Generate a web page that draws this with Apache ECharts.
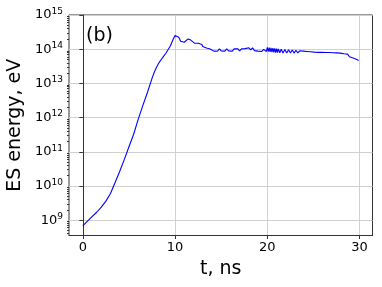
<!DOCTYPE html>
<html>
<head>
<meta charset="utf-8">
<script src="https://cdn.jsdelivr.net/npm/echarts@6/dist/echarts.min.js"></script>
<style>
html,body{margin:0;padding:0;background:#fff;}
#c{width:382px;height:287px;}
</style>
</head>
<body>
<div id="c"></div>
<script>
// time, ns
const timeNs = [
  0.0, 0.5, 1.0, 1.5, 2.0, 2.5, 3.0, 3.5, 4.0, 4.5, 5.0, 5.5, 6.0, 6.5, 7.0,
  7.5, 7.75, 8.0, 8.25, 8.5, 8.75, 9.0, 9.25, 9.5, 9.8,
  10.0, 10.2, 10.4, 10.6, 10.8, 11.0, 11.2, 11.4, 11.5, 11.7, 11.9, 12.1, 12.3, 12.5, 12.7, 12.9,
  13.0, 13.2, 13.4, 13.6, 13.8,
  14.0, 14.2, 14.4, 14.6, 14.8, 15.0, 15.2, 15.4, 15.6, 15.8,
  16.0, 16.2, 16.4, 16.6, 16.8, 17.0, 17.2, 17.4, 17.6, 17.8,
  18.0, 18.2, 18.4, 18.6, 18.8, 19.0, 19.2, 19.4, 19.6, 19.8,
  19.9, 20.0, 20.1, 20.2, 20.3, 20.4, 20.5, 20.6, 20.7, 20.8,
  20.9, 21.0, 21.1, 21.2, 21.35, 21.5, 21.7, 21.9, 22.1, 22.3,
  22.5, 22.7, 22.9, 23.1, 23.3, 23.5, 23.7, 23.9, 24.1, 24.3,
  24.5, 24.7, 24.9, 25.1, 25.3, 25.5, 25.7, 25.9, 26.1, 26.3,
  26.5, 26.7, 26.9, 27.1, 27.3, 27.5, 27.7, 27.9, 28.1, 28.3,
  28.5, 28.7, 28.9, 29.1, 29.3, 29.5, 29.7, 29.9
];
// ES energy, eV
const esEnergy = [
  6.8e8, 9.3e8, 1.26e9, 1.7e9, 2.4e9, 3.6e9, 6.0e9, 1.26e10, 2.7e10, 6.0e10, 1.4e11, 3.2e11, 8.9e11, 2.24e12, 5.4e12,
  1.4e13, 2.15e13, 3.0e13, 4.0e13, 5.0e13, 6.2e13, 7.6e13, 9.8e13, 1.26e14, 2.0e14,
  2.5e14, 2.75e14, 2.25e14, 1.7e14, 1.5e14, 1.6e14, 1.75e14, 2.0e14, 2.2e14, 1.85e14, 1.65e14, 1.5e14, 1.42e14, 1.5e14, 1.48e14, 1.38e14,
  1.2e14, 1.15e14, 1.08e14, 1.05e14, 1.02e14,
  1.02e14, 8.8e13, 9.9e13, 8.7e13, 1.02e14, 8.9e13, 1.01e14, 8.8e13, 1.03e14, 8.9e13,
  1.01e14, 8.8e13, 1.02e14, 9.0e13, 1.03e14, 8.9e13, 1.02e14, 9.0e13, 1.04e14, 9.4e13,
  1.1e14, 9.5e13, 1.1e14, 9.1e13, 1.04e14, 8.8e13, 1.0e14, 8.6e13, 9.9e13, 1.1e14,
  8.6e13, 1.14e14, 8.5e13, 1.12e14, 8.3e13, 1.1e14, 8.2e13, 1.08e14, 8.1e13, 1.06e14,
  8.0e13, 1.04e14, 8.0e13, 1.02e14, 7.9e13, 1.0e14, 7.8e13, 9.8e13, 7.7e13, 9.6e13,
  7.7e13, 9.5e13, 7.7e13, 9.3e13, 7.8e13, 9.0e13, 7.9e13, 8.8e13, 7.8e13, 8.6e13,
  7.7e13, 8.4e13, 7.5e13, 8.2e13, 7.4e13, 8.1e13, 7.4e13, 8.1e13, 7.4e13, 8.0e13,
  7.3e13, 8.0e13, 7.3e13, 7.9e13, 7.2e13, 7.8e13, 7.2e13, 7.7e13, 7.0e13, 7.4e13,
  6.6e13, 7.2e13, 6.0e13, 6.4e13, 5.5e13, 6.1e13, 5.0e13, 4.7e13
];
const xTicks = [0, 10, 20, 30];
const yTicks = [1e9, 1e10, 1e11, 1e12, 1e13, 1e14, 1e15];
const yMinorTicks = [];
for (let e = 8; e <= 14; e++) for (let m = 2; m <= 9; m++) yMinorTicks.push(m * Math.pow(10, e));

const xMin = -1.5, xMax = 31.4;
const yMin = 3.55e8, yMax = 1.002e15;

const data = timeNs.map((t, i) => [t, esEnergy[i]]);
const font = 'DejaVu Sans';
const chart = echarts.init(document.getElementById('c'), null, {renderer: 'canvas'});
chart.setOption({
  animation: false,
  backgroundColor: '#ffffff',
  title: {
    text: '(b)', left: 86, top: 27, padding: 0,
    textStyle: {fontFamily: font, fontSize: 19, fontWeight: 'normal', color: '#000'}
  },
  grid: {left: 69, right: 9.5, top: 15, bottom: 51.5, show: true, borderColor: '#333', borderWidth: 1,
         backgroundColor: 'transparent', outerBoundsMode: 'none', containLabel: false},
  xAxis: {
    type: 'value', min: xMin, max: xMax,
    name: 't, ns', nameLocation: 'middle', nameGap: 22,
    nameTextStyle: {fontFamily: font, fontSize: 19, color: '#000'},
    axisLine: {show: true, onZero: false, lineStyle: {color: '#333', width: 1}},
    axisTick: {show: true, length: 3.5, customValues: xTicks, lineStyle: {color: '#333'}},
    axisLabel: {customValues: xTicks, margin: 6, fontFamily: font, fontSize: 13, color: '#000'},
    splitLine: {show: true, lineStyle: {color: '#d0d0d0', width: 1}}
  },
  yAxis: [{
    type: 'log', min: yMin, max: yMax,
    name: 'ES energy, eV', nameLocation: 'middle', nameGap: 42, nameRotate: 90,
    nameTextStyle: {fontFamily: font, fontSize: 19, color: '#000'},
    axisLine: {show: true, lineStyle: {color: '#333', width: 1}},
    axisTick: {show: true, length: 3.5, customValues: yTicks, lineStyle: {color: '#333'}},
    axisLabel: {
      customValues: yTicks, margin: 6, fontFamily: font, fontSize: 13, color: '#000',
      showMinLabel: true, showMaxLabel: true, hideOverlap: false,
      formatter: v => '10{sup|' + Math.round(Math.log10(v)) + '}',
      rich: {sup: {fontFamily: font, fontSize: 9, color: '#000', verticalAlign: 'bottom', padding: [0, 0, 7, 0]}}
    },
    splitLine: {show: true, lineStyle: {color: '#d0d0d0', width: 1}}
  }, {
    type: 'log', min: yMin, max: yMax, position: 'left',
    axisLine: {show: false},
    axisTick: {show: true, length: 2, customValues: yMinorTicks, lineStyle: {color: '#333'}},
    axisLabel: {show: false},
    splitLine: {show: false}
  }],
  series: [{
    type: 'line', data: data, yAxisIndex: 0, showSymbol: false, symbol: 'none',
    lineStyle: {color: '#0000ff', width: 1.1}, clip: true
  }]
});
</script>
</body>
</html>
